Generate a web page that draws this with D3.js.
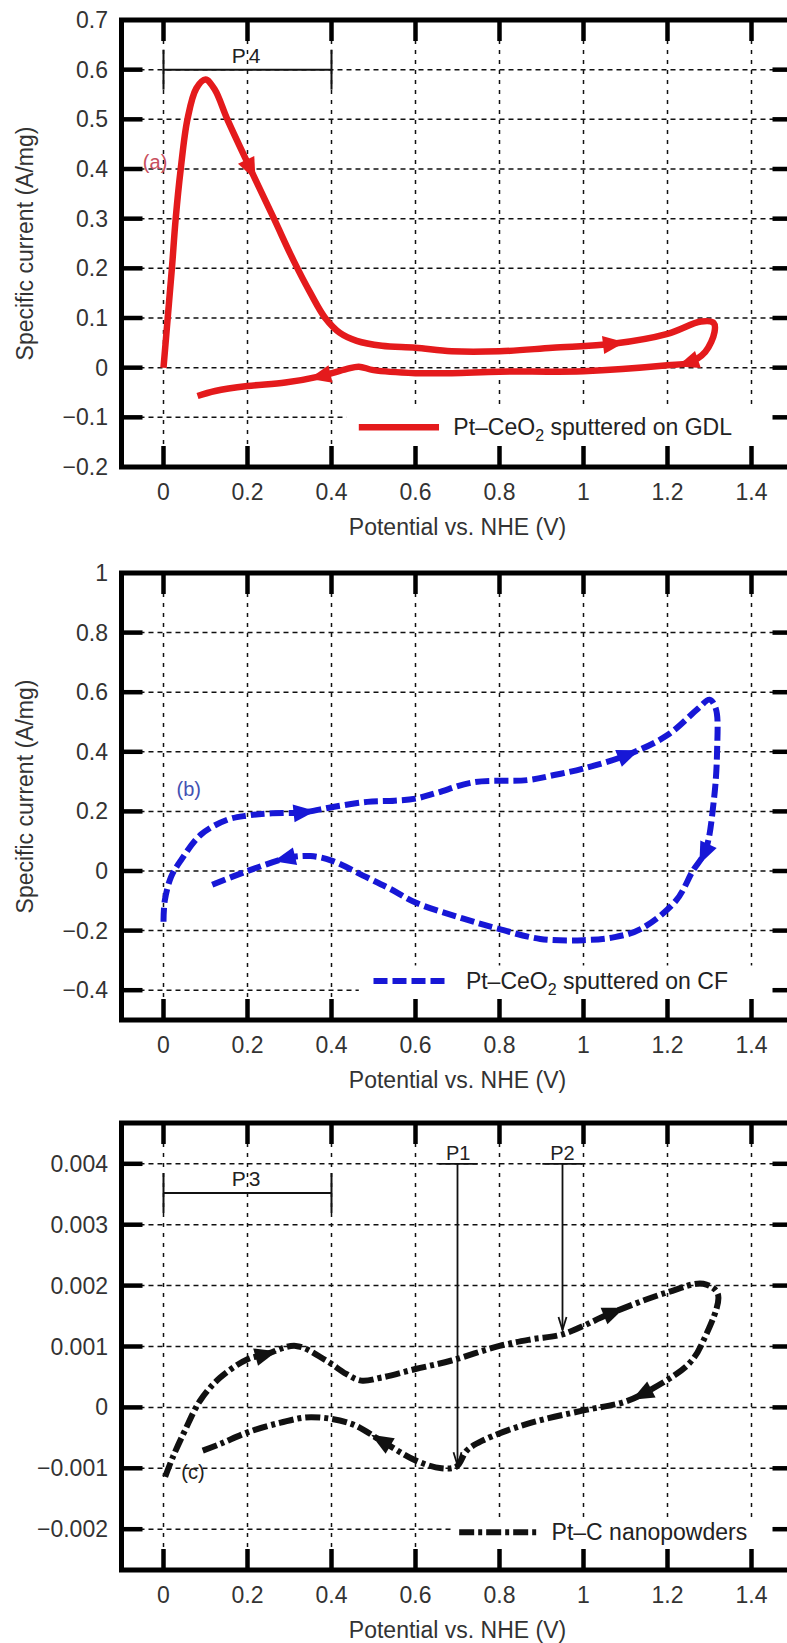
<!DOCTYPE html>
<html>
<head>
<meta charset="utf-8">
<script src="https://cdn.jsdelivr.net/npm/d3@7.9.0/dist/d3.min.js"></script>
<style>
  body { margin: 0; background: #fff; }
  svg { display: block; font-family: "Liberation Sans", Arial, Helvetica, sans-serif; }
</style>
</head>
<body>
<svg id="chart" width="787" height="1643"></svg>
<script>
// shared x ticks (potential, V)
const xTicks = [0, 0.2, 0.4, 0.6, 0.8, 1, 1.2, 1.4];

// (a) Pt-CeO2 sputtered on GDL
const yTicksA = [0.7, 0.6, 0.5, 0.4, 0.3, 0.2, 0.1, 0, -0.1, -0.2];
const gdlCurve = [
  [0, 0], [0.01, 0.1], [0.02, 0.2], [0.029, 0.3], [0.041, 0.4], [0.057, 0.5],
  [0.078, 0.562], [0.1, 0.58], [0.122, 0.56], [0.152, 0.5], [0.207, 0.4],
  [0.263, 0.3], [0.31, 0.215], [0.35, 0.15], [0.385, 0.1], [0.42, 0.07],
  [0.46, 0.054], [0.52, 0.044], [0.6, 0.04], [0.686, 0.033], [0.8, 0.033],
  [0.926, 0.04], [1.07, 0.048], [1.2, 0.068], [1.28, 0.093], [1.31, 0.09],
  [1.312, 0.072], [1.29, 0.032], [1.25, 0.01], [1.2, 0.005], [1.0, -0.007],
  [0.8, -0.008], [0.686, -0.011], [0.6, -0.011], [0.5, -0.005], [0.465, 0.002],
  [0.435, -0.003], [0.375, -0.017], [0.29, -0.03], [0.2, -0.037], [0.123, -0.047],
  [0.081, -0.057]
];
const gdlArrows = [[0.207, 0.4], [1.07, 0.048], [1.25, 0.01], [0.375, -0.017]];

// (b) Pt-CeO2 sputtered on CF
const yTicksB = [1, 0.8, 0.6, 0.4, 0.2, 0, -0.2, -0.4];
const cfCurve = [
  [0, -0.17], [0.003, -0.1], [0.018, -0.02], [0.041, 0.035], [0.089, 0.122],
  [0.152, 0.172], [0.2, 0.186], [0.25, 0.193], [0.334, 0.197], [0.4, 0.214],
  [0.485, 0.232], [0.55, 0.236], [0.6, 0.243], [0.65, 0.262], [0.739, 0.298],
  [0.866, 0.305], [0.93, 0.322], [1.0, 0.344], [1.105, 0.39], [1.2, 0.456],
  [1.272, 0.544], [1.3, 0.575], [1.315, 0.545], [1.318, 0.4], [1.31, 0.233],
  [1.29, 0.067], [1.26, 0], [1.22, -0.1], [1.137, -0.194], [1.074, -0.222],
  [1.0, -0.232], [0.897, -0.228], [0.8, -0.195], [0.714, -0.16], [0.6, -0.106],
  [0.54, -0.06], [0.485, -0.022], [0.4, 0.035], [0.35, 0.05], [0.3, 0.045],
  [0.2, 0.0], [0.109, -0.05]
];
const cfArrows = [[0.334, 0.197], [1.105, 0.39], [1.285, 0.06], [0.29, 0.043]];

// (c) Pt-C nanopowders
const yTicksC = [0.004, 0.003, 0.002, 0.001, 0, -0.001, -0.002];
const ptcCurve = [
  [0.004, -0.00114], [0.022, -0.00082], [0.051, -0.00038], [0.087, 0.00011],
  [0.135, 0.00049], [0.2, 0.00079], [0.243, 0.00087], [0.315, 0.00101],
  [0.387, 0.00077], [0.435, 0.00055], [0.471, 0.00044], [0.519, 0.00049],
  [0.6, 0.00063], [0.686, 0.00077], [0.8, 0.00101], [0.878, 0.00112],
  [0.95, 0.0012], [1.07, 0.00156], [1.2, 0.00189], [1.285, 0.00203],
  [1.32, 0.00186], [1.285, 0.00109], [1.25, 0.00071], [1.141, 0.00022],
  [1.093, 0.00008], [1.0, -0.00005], [0.866, -0.00027], [0.758, -0.00055],
  [0.722, -0.00071], [0.698, -0.00097], [0.662, -0.001], [0.6, -0.00087],
  [0.519, -0.00055], [0.447, -0.00027], [0.351, -0.00016], [0.279, -0.00025],
  [0.2, -0.00041], [0.135, -0.0006], [0.093, -0.00071]
];
const ptcArrows = [[0.243, 0.00087], [1.07, 0.00156], [1.141, 0.00022], [0.519, -0.00055]];
const ptcMarkers = [
  { label: 'P1', x: 0.7, top: 0.004, tip: -0.00095, bar: [0.655, 0.748] },
  { label: 'P2', x: 0.95, top: 0.004, tip: 0.00127, bar: [0.902, 0.998] }
];

// region brackets
const p4Span = [0, 0.4], p4Level = 0.6;
const p3Span = [0, 0.4], p3Level = 0.00352;

const svg = d3.select('#chart');
const frameH = 447;
const x = d3.scaleLinear().domain([-0.1, 1.5]).range([121.5, 793.5]);
const fmt = d3.format('~g');

const panels = [
  {
    top: 20, yDomain: [-0.2, 0.7], yTicks: yTicksA, curve: gdlCurve, arrows: gdlArrows,
    color: '#e41a1c', width: 6.5, dash: null, yTitle: true,
    legend: { box: [0.435, -0.083], line: [0.465, 0.656], text: 0.69, y: -0.12, name: ['Pt\u2013CeO', '2', ' sputtered on GDL'] },
    tag: { text: '(a)', x: -0.02, y: 0.415, color: '#c8505e' },
    bracket: { span: p4Span, level: p4Level, label: 'P4' }
  },
  {
    top: 573, yDomain: [-0.5, 1], yTicks: yTicksB, curve: cfCurve, arrows: cfArrows,
    color: '#1717d6', width: 6, dash: '14,5', yTitle: true,
    legend: { box: [0.465, -0.317], line: [0.5, 0.679], text: 0.72, y: -0.369, name: ['Pt\u2013CeO', '2', ' sputtered on CF'] },
    tag: { text: '(b)', x: 0.06, y: 0.275, color: '#4452b4' }
  },
  {
    top: 1123, yDomain: [-0.00267, 0.00467], yTicks: yTicksC, curve: ptcCurve, arrows: ptcArrows,
    color: '#111', width: 6, dash: '15,4,4,4', yTitle: false,
    legend: { box: [0.686, -0.0018], line: [0.704, 0.896], text: 0.924, y: -0.00205, name: ['Pt\u2013C nanopowders'] },
    tag: { text: '(c)', x: 0.07, y: -0.00106, color: '#222' },
    bracket: { span: p3Span, level: p3Level, label: 'P3' },
    markers: ptcMarkers
  }
];

panels.forEach(drawPanel);

function drawPanel(p) {
  const g = svg.append('g');
  const top = p.top, bottom = p.top + frameH;
  const left = x.range()[0], right = x.range()[1];
  const y = d3.scaleLinear().domain(p.yDomain).range([bottom, top]);
  const innerY = p.yTicks.filter(d => y(d) > top + 2 && y(d) < bottom - 2);

  // dotted grid
  g.selectAll('line.vgrid').data(xTicks).join('line').attr('class', 'vgrid')
    .attr('x1', d => x(d)).attr('x2', d => x(d)).attr('y1', top).attr('y2', bottom)
    .attr('stroke', '#111').attr('stroke-width', 1.5).attr('stroke-dasharray', '4,6');
  g.selectAll('line.hgrid').data(innerY).join('line').attr('class', 'hgrid')
    .attr('x1', left).attr('x2', right).attr('y1', d => y(d)).attr('y2', d => y(d))
    .attr('stroke', '#111').attr('stroke-width', 1.5).attr('stroke-dasharray', '5,4');

  // key box hides the grid
  g.append('rect')
    .attr('x', x(p.legend.box[0])).attr('y', y(p.legend.box[1]))
    .attr('width', right - x(p.legend.box[0])).attr('height', bottom - y(p.legend.box[1]))
    .attr('fill', '#fff');

  // bracket annotation (P3 / P4)
  if (p.bracket) {
    const b = p.bracket, by = y(b.level);
    const bg = g.append('g').attr('stroke', '#111').attr('stroke-width', 2);
    bg.append('line').attr('x1', x(b.span[0])).attr('x2', x(b.span[1])).attr('y1', by).attr('y2', by);
    b.span.forEach(v => {
      bg.append('line').attr('x1', x(v)).attr('x2', x(v)).attr('y1', by - 20).attr('y2', by + 20);
    });
    g.append('text').attr('x', (x(b.span[0]) + x(b.span[1])) / 2).attr('y', by - 7)
      .attr('text-anchor', 'middle').attr('font-size', 21).attr('letter-spacing', 3)
      .attr('fill', '#222').text(b.label);
  }

  // curve
  const line = d3.line().x(d => x(d[0])).y(d => y(d[1])).curve(d3.curveCatmullRom.alpha(0.5));
  const path = g.append('path').datum(p.curve)
    .attr('d', line).attr('fill', 'none').attr('stroke', p.color)
    .attr('stroke-width', p.width).attr('stroke-linejoin', 'round')
    .attr('stroke-dasharray', p.dash);

  // direction arrows placed on the drawn curve
  const node = path.node();
  const total = node.getTotalLength();
  p.arrows.forEach(a => {
    const tx = x(a[0]), ty = y(a[1]);
    let best = 0, bd = Infinity;
    for (let l = 0; l <= total; l += 1) {
      const pt = node.getPointAtLength(l);
      const dd = (pt.x - tx) ** 2 + (pt.y - ty) ** 2;
      if (dd < bd) { bd = dd; best = l; }
    }
    const p0 = node.getPointAtLength(Math.max(0, best - 4));
    const p1 = node.getPointAtLength(Math.min(total, best + 4));
    const c = node.getPointAtLength(best);
    const ang = Math.atan2(p1.y - p0.y, p1.x - p0.x) * 180 / Math.PI;
    g.append('path').attr('d', 'M12,0 L-10,-9 L-10,9 Z')
      .attr('transform', `translate(${c.x},${c.y}) rotate(${ang})`)
      .attr('fill', p.color);
  });

  // P1 / P2 pointers
  if (p.markers) {
    p.markers.forEach(m => {
      const mg = g.append('g').attr('stroke', '#111').attr('stroke-width', 1.8).attr('fill', 'none');
      mg.append('line').attr('x1', x(m.bar[0])).attr('x2', x(m.bar[1])).attr('y1', y(m.top)).attr('y2', y(m.top));
      mg.append('line').attr('x1', x(m.x)).attr('x2', x(m.x)).attr('y1', y(m.top)).attr('y2', y(m.tip));
      const tx = x(m.x), ty = y(m.tip);
      mg.append('path').attr('d', `M${tx - 4},${ty - 13} L${tx},${ty} L${tx + 4},${ty - 13}`);
      g.append('text').attr('x', (x(m.bar[0]) + x(m.bar[1])) / 2).attr('y', y(m.top) - 4)
        .attr('text-anchor', 'middle').attr('font-size', 20).attr('fill', '#222').text(m.label);
    });
  }

  // key sample and label
  const ly = y(p.legend.y);
  g.append('line').attr('x1', x(p.legend.line[0])).attr('x2', x(p.legend.line[1]))
    .attr('y1', ly).attr('y2', ly).attr('stroke', p.color).attr('stroke-width', p.width)
    .attr('stroke-dasharray', p.dash);
  const lt = g.append('text').attr('x', x(p.legend.text)).attr('y', ly + 8)
    .attr('font-size', 23).attr('fill', '#222');
  lt.append('tspan').text(p.legend.name[0]);
  if (p.legend.name.length > 1) {
    lt.append('tspan').attr('dy', 6).attr('font-size', 16).text(p.legend.name[1]);
    lt.append('tspan').attr('dy', -6).text(p.legend.name[2]);
  }

  // curve tag
  g.append('text').attr('x', x(p.tag.x)).attr('y', y(p.tag.y) + 7)
    .attr('text-anchor', 'middle').attr('font-size', 20).attr('fill', p.tag.color).text(p.tag.text);

  // inward ticks on all four sides
  const tk = g.append('g').attr('stroke', '#000').attr('stroke-width', 4.5);
  xTicks.forEach(d => {
    tk.append('line').attr('x1', x(d)).attr('x2', x(d)).attr('y1', bottom).attr('y2', bottom - 21);
    tk.append('line').attr('x1', x(d)).attr('x2', x(d)).attr('y1', top).attr('y2', top + 21);
  });
  innerY.forEach(d => {
    tk.append('line').attr('x1', left).attr('x2', left + 21).attr('y1', y(d)).attr('y2', y(d));
    tk.append('line').attr('x1', right).attr('x2', right - 21).attr('y1', y(d)).attr('y2', y(d));
  });

  g.append('rect').attr('x', left).attr('y', top).attr('width', right - left).attr('height', frameH)
    .attr('fill', 'none').attr('stroke', '#000').attr('stroke-width', 5);

  // tick labels
  g.selectAll('text.xl').data(xTicks).join('text').attr('class', 'xl')
    .attr('x', d => x(d)).attr('y', bottom + 33).attr('text-anchor', 'middle')
    .attr('font-size', 23).attr('fill', '#333').text(d => fmt(d));
  g.selectAll('text.yl').data(p.yTicks).join('text').attr('class', 'yl')
    .attr('x', 108).attr('y', d => y(d) + 8).attr('text-anchor', 'end')
    .attr('font-size', 23).attr('fill', '#333').text(d => fmt(d));

  // axis titles
  g.append('text').attr('x', (left + right) / 2).attr('y', bottom + 68)
    .attr('text-anchor', 'middle').attr('font-size', 23).attr('fill', '#333')
    .text('Potential vs. NHE (V)');
  if (p.yTitle) {
    g.append('text').attr('transform', `translate(33,${(top + bottom) / 2}) rotate(-90)`)
      .attr('text-anchor', 'middle').attr('font-size', 23).attr('fill', '#333')
      .text('Specific current (A/mg)');
  }
}
</script>
</body>
</html>
